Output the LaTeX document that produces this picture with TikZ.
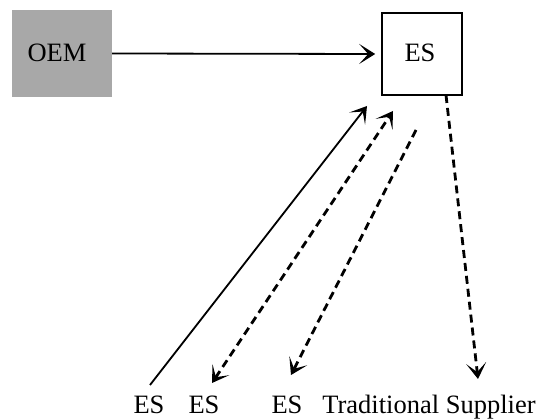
\documentclass[tikz,border=0pt]{standalone}
\usepackage{fontspec}
\setmainfont{Liberation Serif}
\usetikzlibrary{arrows.meta}
\begin{document}
\begin{tikzpicture}[x=1pt,y=-1pt,
  lbl/.style={font=\fontsize{26.5}{28}\selectfont, inner sep=0pt, anchor=base},
  head/.tip={Stealth[length=16pt,width=20pt,inset=9pt]},
  flow/.style={line width=1.8pt, -head},
  dashflow/.style={line width=2.8pt, dash pattern=on 8pt off 5pt, -head}]
\useasboundingbox (0,0) rectangle (541,419);
% boxes
\fill[gray!68] (12,10) rectangle (112,97);
\node[inner sep=0pt, minimum width=100pt, minimum height=87pt] (oem) at (62,53.5) {};
\node[lbl] (oemt) at (57,62) {OEM};
\node[draw, line width=1.6pt, minimum width=80pt, minimum height=82pt, inner sep=0pt] (es) at (422,54) {};
\node[lbl] (est) at (420,62) {ES};
% bottom labels
\node[lbl] (es1) at (149,414) {ES};
\node[lbl] (es2) at (204,414) {ES};
\node[lbl] (es3) at (287,414) {ES};
\node[lbl] (ts) at (429,414) {Traditional Supplier};
% arrow end points
\coordinate (a1) at (150,385);
\coordinate (t1) at (367,106);
\coordinate (b2) at (212,383);
\coordinate (t2) at (393,111);
\coordinate (s3) at (416,130);
\coordinate (t3) at (291,375);
\coordinate (s4) at (446,95);
\coordinate (t4) at (478,379);
% connectors
\draw[flow] (oem.east) -- ([xshift=-6pt]es.west);
\draw[flow] (a1) -- (t1);
\draw[dashflow, head-head] (b2) -- (t2);
\draw[dashflow] (s3) -- (t3);
\draw[dashflow] (s4) -- (t4);
\end{tikzpicture}
\end{document}
